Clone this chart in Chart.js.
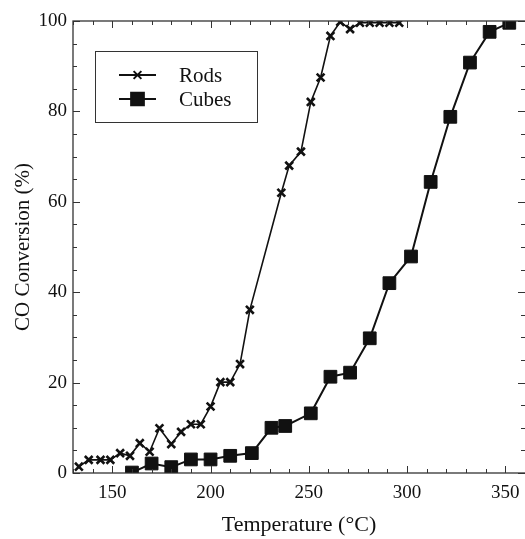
<!DOCTYPE html>
<html>
<head>
<meta charset="utf-8">
<script src="https://cdn.jsdelivr.net/npm/chart.js@4.4.1/dist/chart.umd.min.js"></script>
<style>
  html, body { margin: 0; padding: 0; background: #fff; overflow: hidden; }
  #wrap { width: 525px; height: 539px; }
</style>
</head>
<body>
<div id="wrap"><canvas id="chart" width="525" height="539"></canvas></div>
<script>
// rods (crosses)
const rodsT = [133, 138, 144, 149, 154, 159, 164, 169, 174, 180, 185, 190, 195, 200, 205, 210, 215, 220,
  236, 240, 246, 251, 256, 261, 266, 271, 276, 281, 286, 291, 296];
const rodsConv = [1.4, 2.9, 2.9, 2.9, 4.4, 3.8, 6.6, 4.7, 9.9, 6.4, 9.1, 10.8, 10.8, 14.7, 20.1, 20.1, 24.1, 36.1,
  62.0, 68.0, 71.1, 82.1, 87.5, 96.7, 99.8, 98.2, 99.6, 99.6, 99.6, 99.6, 99.6];

// cubes (squares)
const cubesT = [160, 170, 180, 190, 200, 210, 221, 231, 238, 251, 261, 271, 281, 291, 302, 312, 322, 332, 342, 352];
const cubesConv = [0.1, 2.1, 1.3, 3.0, 3.0, 3.8, 4.4, 10.0, 10.4, 13.2, 21.3, 22.2, 29.8, 42.0, 47.9, 64.4, 78.8, 90.8, 97.6, 99.6];

const xTicks = [150, 200, 250, 300, 350];
const yTicks = [0, 20, 40, 60, 80, 100];

const serif = "'Liberation Serif', 'Times New Roman', serif";
const ink = "#111";

const toPts = (xs, ys) => xs.map((x, i) => ({ x, y: ys[i] }));

// frame + inward ticks on all four sides (right edge sits just off the canvas)
const frameTicks = {
  id: "frameTicks",
  afterDatasetsDraw(chart) {
    const { ctx, chartArea: a, scales } = chart;
    const xs = scales.x, ys = scales.y;
    ctx.save();
    ctx.strokeStyle = "#333";
    ctx.lineWidth = 1.3;
    ctx.strokeRect(a.left, a.top, a.right - a.left + 1, a.bottom - a.top);
    ctx.lineWidth = 1;
    ctx.beginPath();
    for (let v = 130; v <= 360; v += 10) {
      const px = Math.round(xs.getPixelForValue(v)) + 0.5;
      const len = v % 50 === 0 ? 7 : 4;
      ctx.moveTo(px, a.bottom); ctx.lineTo(px, a.bottom - len);
      ctx.moveTo(px, a.top); ctx.lineTo(px, a.top + len);
    }
    for (let v = 0; v <= 100; v += 5) {
      const py = Math.round(ys.getPixelForValue(v)) + 0.5;
      const len = v % 20 === 0 ? 7 : 4;
      ctx.moveTo(a.left, py); ctx.lineTo(a.left + len, py);
      ctx.moveTo(a.right, py); ctx.lineTo(a.right - len, py);
    }
    ctx.stroke();
    ctx.restore();
  }
};

// boxed legend inside the plot
const boxLegend = {
  id: "boxLegend",
  afterDraw(chart) {
    const { ctx } = chart;
    ctx.save();
    ctx.strokeStyle = "#333";
    ctx.lineWidth = 1;
    ctx.strokeRect(95.5, 51.5, 162, 71);
    const rows = [75, 99];
    chart.data.datasets.forEach((ds, i) => {
      const y = rows[i];
      ctx.strokeStyle = ink;
      ctx.lineWidth = 2;
      ctx.beginPath();
      ctx.moveTo(119, y); ctx.lineTo(156, y);
      ctx.stroke();
      Chart.helpers.drawPoint(ctx, {
        pointStyle: ds.pointStyle,
        radius: ds.pointRadius,
        borderWidth: ds.pointBorderWidth
      }, 137.5, y);
      ctx.fillStyle = ink;
      ctx.font = "21px " + serif;
      ctx.textBaseline = "middle";
      ctx.textAlign = "left";
      ctx.fillText(ds.label, 179, y + 1);
    });
    ctx.restore();
  }
};

const ctx = document.getElementById("chart").getContext("2d");

const chart = new Chart(ctx, {
  type: "line",
  data: {
    datasets: [
      {
        label: "Rods",
        data: toPts(rodsT, rodsConv),
        borderColor: ink,
        backgroundColor: ink,
        borderWidth: 1.6,
        pointStyle: "crossRot",
        pointRadius: 5.5,
        pointBorderWidth: 2.6,
        pointBorderColor: ink,
        tension: 0,
      },
      {
        label: "Cubes",
        data: toPts(cubesT, cubesConv),
        borderColor: ink,
        backgroundColor: ink,
        borderWidth: 2,
        pointStyle: "rect",
        pointRadius: 9,
        pointBorderWidth: 1,
        pointBackgroundColor: ink,
        pointBorderColor: ink,
        tension: 0,
      },
    ],
  },
  options: {
    responsive: false,
    animation: false,
    events: [],
    layout: { autoPadding: false, padding: { top: 21, right: 0, left: 0, bottom: 0 } },
    plugins: { legend: { display: false }, tooltip: { enabled: false } },
    scales: {
      x: {
        type: "linear",
        min: 130,
        max: 360,
        grid: { display: false, drawTicks: false },
        border: { display: false },
        afterBuildTicks: (s) => { s.ticks = xTicks.map((v) => ({ value: v })); },
        afterFit: (s) => { s.height = 66; s.paddingLeft = 0; s.paddingRight = 0; },
        ticks: { color: ink, padding: 9, maxRotation: 0, font: { family: serif, size: 19 } },
        title: {
          display: true,
          text: "Temperature (°C)",
          color: ink,
          padding: { top: 0, bottom: 1 },
          font: { family: serif, size: 22 },
        },
      },
      y: {
        min: 0,
        max: 100,
        grid: { display: false, drawTicks: false },
        border: { display: false },
        afterBuildTicks: (s) => { s.ticks = yTicks.map((v) => ({ value: v })); },
        afterFit: (s) => { s.width = 73; s.paddingTop = 0; s.paddingBottom = 0; },
        ticks: { color: ink, padding: 6, font: { family: serif, size: 19 } },
        title: {
          display: true,
          text: "CO Conversion (%)",
          color: ink,
          padding: { top: 11, bottom: 0 },
          font: { family: serif, size: 21 },
        },
      },
    },
  },
  plugins: [frameTicks, boxLegend],
});
</script>
</body>
</html>
